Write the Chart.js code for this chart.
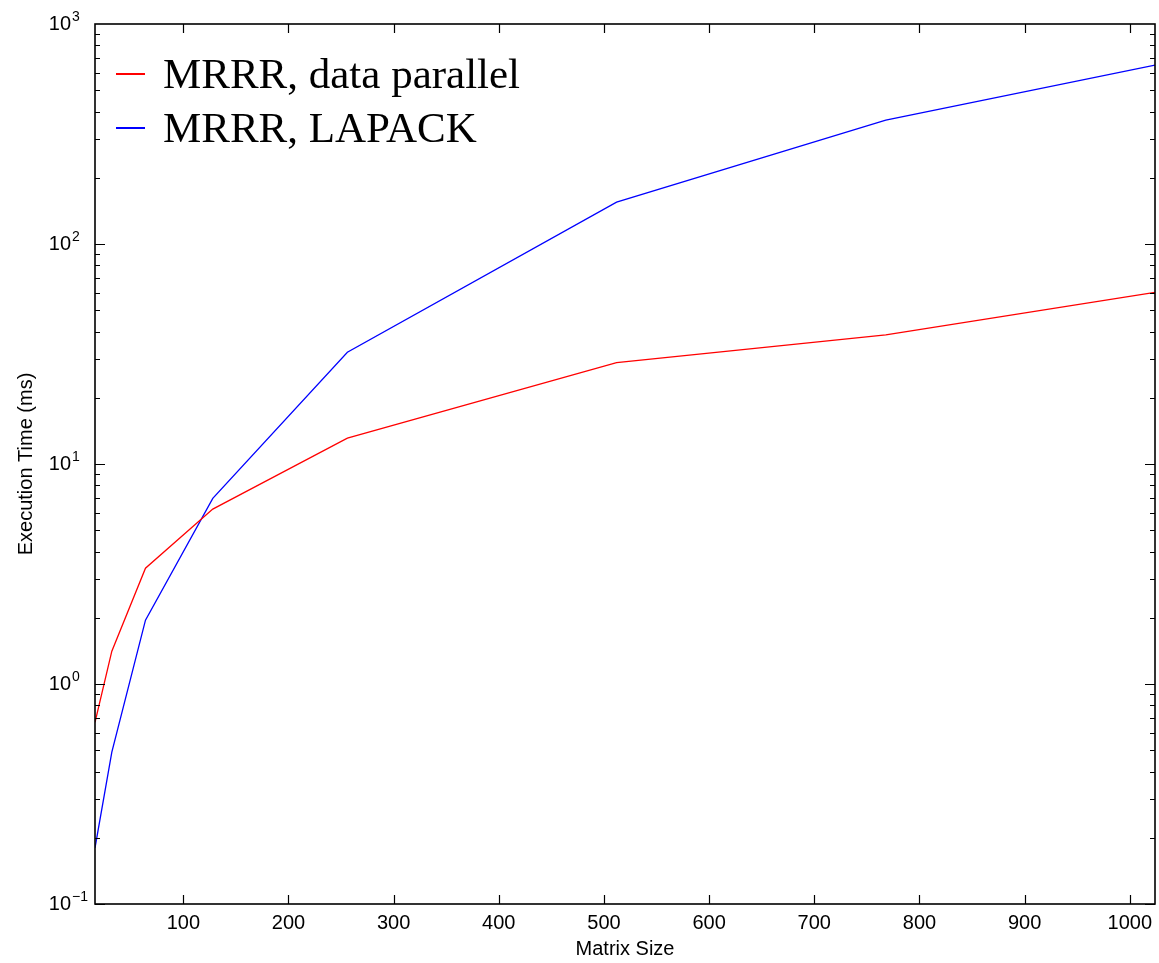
<!DOCTYPE html>
<html lang="en">
<head>
    <meta charset="UTF-8">
    <title>MRRR execution time</title>
    <script src="https://cdn.jsdelivr.net/npm/chart.js"></script>
    <style>
        html, body { margin: 0; padding: 0; background: #fff; }
        #grafico { display: block; }
    </style>
</head>
<body>
    <canvas id="grafico" width="1159" height="963"></canvas>
    <script>
        // data
        const matrixSizes = [16, 32, 64, 128, 256, 512, 768, 1024];
        const dataParallel = [0.67, 1.41, 3.36, 6.24, 13.1, 28.9, 38.6, 60.3];
        const lapack = [0.18, 0.49, 1.95, 6.98, 32.2, 155, 366, 651];
        const seriesNames = ['MRRR, data parallel', 'MRRR, LAPACK'];

        const xTicks = [100, 200, 300, 400, 500, 600, 700, 800, 900, 1000];
        const yTicks = [0.1, 1, 10, 100, 1000];
        const yTickExponents = ['\u22121', '0', '1', '2', '3'];

        const fonte = '"Liberation Sans", Arial, sans-serif';

        // inward ticks on all four sides, frame, exponents and legend inside the plot
        const moldura = {
            id: 'moldura',
            afterDatasetsDraw(chart) {
                const ctx = chart.ctx;
                const a = chart.chartArea;
                const xs = chart.scales.x, ys = chart.scales.y;
                ctx.save();
                ctx.strokeStyle = '#000';
                ctx.lineWidth = 1.2;
                ctx.beginPath();
                xTicks.forEach(v => {
                    const px = Math.round(xs.getPixelForValue(v)) + 0.5;
                    ctx.moveTo(px, a.bottom); ctx.lineTo(px, a.bottom - 9);
                    ctx.moveTo(px, a.top); ctx.lineTo(px, a.top + 9);
                });
                for (let d = -1; d < 3; d++) {
                    for (let k = 1; k <= 9; k++) {
                        const v = k * Math.pow(10, d);
                        const py = Math.round(ys.getPixelForValue(v)) + 0.5;
                        const len = k === 1 ? 10 : 5;
                        ctx.moveTo(a.left, py); ctx.lineTo(a.left + len, py);
                        ctx.moveTo(a.right, py); ctx.lineTo(a.right - len, py);
                    }
                }
                ctx.stroke();
                ctx.lineWidth = 1.6;
                ctx.strokeRect(a.left, a.top, a.right - a.left, a.bottom - a.top);

                // exponents of the y labels
                ctx.fillStyle = '#000';
                ctx.font = '14px ' + fonte;
                ctx.textAlign = 'left';
                ctx.textBaseline = 'alphabetic';
                yTicks.forEach((v, i) => {
                    const py = ys.getPixelForValue(v);
                    ctx.fillText(yTickExponents[i], 72, py - 3);
                });

                // legend
                ctx.font = '43px "Liberation Serif", "Times New Roman", serif';
                chart.data.datasets.forEach((ds, i) => {
                    const y = 74 + i * 54;
                    ctx.strokeStyle = ds.borderColor;
                    ctx.lineWidth = 2;
                    ctx.beginPath();
                    ctx.moveTo(a.left + 21, y);
                    ctx.lineTo(a.left + 50, y);
                    ctx.stroke();
                    ctx.fillStyle = '#000';
                    ctx.fillText(ds.label, a.left + 68, y + 14);
                });
                ctx.restore();
            }
        };

        new Chart(document.getElementById('grafico'), {
            type: 'line',
            data: {
                datasets: [
                    {
                        label: seriesNames[0],
                        data: matrixSizes.map((x, i) => ({ x: x, y: dataParallel[i] })),
                        borderColor: '#ff0000',
                        borderWidth: 1.3,
                        pointRadius: 0,
                        tension: 0
                    },
                    {
                        label: seriesNames[1],
                        data: matrixSizes.map((x, i) => ({ x: x, y: lapack[i] })),
                        borderColor: '#0000ff',
                        borderWidth: 1.3,
                        pointRadius: 0,
                        tension: 0
                    }
                ]
            },
            options: {
                responsive: false,
                animation: false,
                layout: { padding: { top: 24, right: 4, left: 0, bottom: 0 } },
                plugins: {
                    legend: { display: false },
                    tooltip: { enabled: false }
                },
                scales: {
                    x: {
                        type: 'linear',
                        min: 16,
                        max: 1024,
                        grid: { display: false, drawTicks: false },
                        border: { display: false },
                        afterBuildTicks: s => { s.ticks = xTicks.map(v => ({ value: v })); },
                        afterFit: s => { s.height = 59; s.paddingLeft = 0; s.paddingRight = 0; },
                        ticks: {
                            color: '#000',
                            padding: 7,
                            maxRotation: 0,
                            font: { family: fonte, size: 20 },
                            callback: v => String(v)
                        },
                        title: {
                            display: true,
                            text: 'Matrix Size',
                            color: '#000',
                            padding: { top: 0, bottom: 2 },
                            font: { family: fonte, size: 20 }
                        }
                    },
                    y: {
                        type: 'logarithmic',
                        min: 0.1,
                        max: 1000,
                        grid: { display: false, drawTicks: false },
                        border: { display: false },
                        afterBuildTicks: s => { s.ticks = yTicks.map(v => ({ value: v })); },
                        afterFit: s => { s.width = 95; s.paddingTop = 0; s.paddingBottom = 0; },
                        ticks: {
                            color: '#000',
                            padding: 24,
                            font: { family: fonte, size: 20 },
                            callback: () => '10'
                        },
                        title: {
                            display: true,
                            text: 'Execution Time (ms)',
                            color: '#000',
                            padding: { top: 14, bottom: 0 },
                            font: { family: fonte, size: 20 }
                        }
                    }
                }
            },
            plugins: [moldura]
        });
    </script>
</body>
</html>
